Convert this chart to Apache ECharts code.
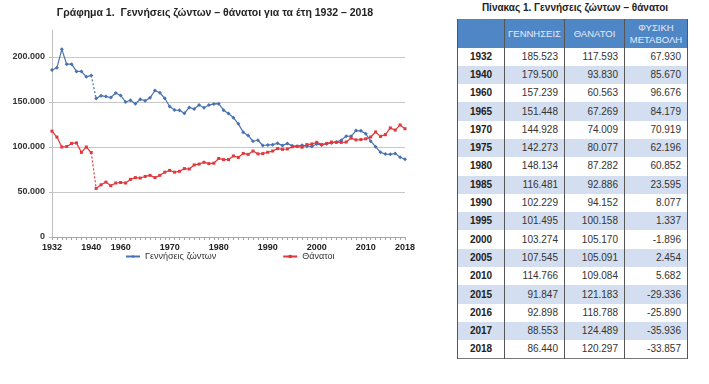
<!DOCTYPE html>
<html><head><meta charset="utf-8">
<script src="https://cdn.jsdelivr.net/npm/echarts@6/dist/echarts.min.js"></script>
<style>
html,body{margin:0;padding:0;background:#fff;width:709px;height:384px;overflow:hidden;font-family:"Liberation Sans",Arial,sans-serif;}
#chart{position:absolute;left:0;top:0;width:430px;height:384px;}
#ttitle{position:absolute;left:440px;top:2px;width:270px;text-align:center;font-weight:bold;font-size:10px;color:#222;}
#tbl{position:absolute;left:457px;top:19px;border-collapse:collapse;border:1px solid #7a7a7a;font-size:10px;color:#333;}
#tbl td,#tbl th{padding:0 5px;border-left:1px solid #555;border-right:1px solid #555;box-sizing:border-box;}
#tbl th{background:#4f86c6;color:#e4ecf7;font-weight:normal;font-size:9.5px;height:28px;line-height:12px;text-align:center;padding:0 2px;}
#tbl td{height:18.3px;line-height:12px;text-align:right;padding:0 6px 0 0;}
#tbl td.y{text-align:center;font-weight:bold;color:#222;padding:0;}
#tbl tr.alt td{background:#d3dff0;}
</style></head><body>
<div id="chart"></div>
<div id="ttitle">Πίνακας 1. Γεννήσεις ζώντων – θάνατοι</div>
<table id="tbl"></table>
<script>
// ---- chart data ----
const years = [1932,1933,1934,1935,1936,1937,1938,1939,1940,
  1955,1956,1957,1958,1959,1960,1961,1962,1963,1964,1965,1966,1967,1968,1969,
  1970,1971,1972,1973,1974,1975,1976,1977,1978,1979,1980,1981,1982,1983,1984,
  1985,1986,1987,1988,1989,1990,1991,1992,1993,1994,1995,1996,1997,1998,1999,
  2000,2001,2002,2003,2004,2005,2006,2007,2008,2009,2010,2011,2012,2013,2014,
  2015,2016,2017,2018];
const births = [185523,188000,208500,192000,192000,184000,184000,178000,179500,
  154000,157000,156000,155000,160000,157239,150000,152000,148000,153000,151448,154600,162800,160300,154100,
  144928,141100,140800,137500,144000,142273,146600,143700,146600,147900,148134,140953,137275,132608,125724,
  116481,112810,106392,107505,101657,102229,102620,104081,101799,103763,101495,100718,102038,100894,100643,
  103274,102282,103569,104420,105655,107545,112042,111926,118302,117933,114766,106428,100371,94134,92149,
  91847,92898,88553,86440];
const deaths = [117593,111000,100000,100500,104000,104500,94000,100000,93830,
  54000,58000,61000,57000,60000,60563,60000,64000,66000,65500,67269,68500,66000,68500,72000,
  74009,72000,73000,76000,75500,80077,81000,83000,81500,82000,87282,86000,86000,90000,88400,
  92886,91800,95500,92400,92700,94152,95500,98200,97400,97800,100158,100700,99700,102700,103300,
  105170,102600,103900,105500,105200,105091,105500,109900,107900,108300,109084,111100,116700,111800,113700,
  121183,118788,124489,120297];
const xLabelYears = [1932,1940,1960,1970,1980,1990,2000,2010,2018];
const yTicks = [0,50000,100000,150000,200000];

// ---- table data ----
const tYears  = [1932,1940,1960,1965,1970,1975,1980,1985,1990,1995,2000,2005,2010,2015,2016,2017,2018];
const tBirths = [185523,179500,157239,151448,144928,142273,148134,116481,102229,101495,103274,107545,114766,91847,92898,88553,86440];
const tDeaths = [117593,93830,60563,67269,74009,80077,87282,92886,94152,100158,105170,105091,109084,121183,118788,124489,120297];
const tChange = [67930,85670,96676,84179,70919,62196,60852,23595,8077,1337,-1896,2454,5682,-29336,-25890,-35936,-33857];

function fmt(n){
  const s = Math.abs(n).toString().replace(/\B(?=(\d{3})+(?!\d))/g,'.');
  return (n<0?'-':'') + s;
}

// build table
(function(){
  let h = '<tr><th style="width:47px"></th><th style="width:60px">ΓΕΝΝΗΣΕΙΣ</th><th style="width:60px">ΘΑΝΑΤΟΙ</th><th style="width:63px">ΦΥΣΙΚΗ<br>ΜΕΤΑΒΟΛΗ</th></tr>';
  for (let i=0;i<tYears.length;i++){
    h += '<tr'+(i%2===1?' class="alt"':'')+'><td class="y">'+tYears[i]+'</td><td>'+fmt(tBirths[i])+'</td><td>'+fmt(tDeaths[i])+'</td><td>'+fmt(tChange[i])+'</td></tr>';
  }
  document.getElementById('tbl').innerHTML = h;
})();

const cats = years.map(String);
const gapIdx = years.indexOf(1940);
function part(arr, from, to){ return arr.map((v,i)=> (i>=from && i<=to) ? v : null); }
const last = years.length-1;
const BLUE = '#4a72b0', RED = '#e0383c';
const NB = 'Γεννήσεις ζώντων', ND = 'Θάνατοι';

function lineSeries(name, data, color, symbol, dashed){
  return {
    name: name, type:'line', data: data, connectNulls:false,
    symbol: dashed ? 'none' : symbol, symbolSize: symbol==='rect'?3:4,
    showSymbol: !dashed, showAllSymbol: true,
    itemStyle:{color: color},
    lineStyle:{color: color, width: 1.2, type: dashed ? [2,2] : 'solid'},
    emphasis:{disabled:true}, animation:false, z: name===ND?3:2
  };
}

const chart = echarts.init(document.getElementById('chart'), null, {renderer:'canvas'});
chart.setOption({
  animation:false,
  title:{text:'Γράφημα 1.  Γεννήσεις ζώντων – θάνατοι για τα έτη 1932 – 2018', left:210, textAlign:'center', top:3,
    textStyle:{fontFamily:'Liberation Sans', fontSize:10.5, fontWeight:'bold', color:'#222'}},
  grid:{left:52, right:25, top:30, bottom:147},
  legend:{data:[NB, ND], bottom:118, left:120, itemGap:66, itemWidth:14, itemHeight:4,
    textStyle:{fontFamily:'Liberation Sans', fontSize:9, color:'#333'}},
  xAxis:{type:'category', data:cats, boundaryGap:false,
    axisLine:{lineStyle:{color:'#a6a6a6'}},
    axisTick:{interval:0, length:3, lineStyle:{color:'#a6a6a6'}},
    axisLabel:{interval:(i,v)=> xLabelYears.indexOf(+v)>=0, fontFamily:'Liberation Sans', fontSize:9, fontWeight:'bold', color:'#222', margin:6}},
  yAxis:{type:'value', min:yTicks[0], max:230000, interval:yTicks[1]-yTicks[0],
    axisLine:{show:true, lineStyle:{color:'#bfbfbf'}},
    axisTick:{show:true, length:3, lineStyle:{color:'#bfbfbf'}},
    splitLine:{lineStyle:{color:'#c8c8c8'}, showMaxLine:false},
    axisLabel:{showMaxLabel:false, formatter:v=>fmt(v), fontFamily:'Liberation Sans', fontSize:9, fontWeight:'bold', color:'#333', margin:7}},
  series:[
    lineSeries(NB, part(births,0,gapIdx), BLUE, 'diamond', false),
    lineSeries(NB, part(births,gapIdx,gapIdx+1), BLUE, 'diamond', true),
    lineSeries(NB, part(births,gapIdx+1,last), BLUE, 'diamond', false),
    lineSeries(ND, part(deaths,0,gapIdx), RED, 'rect', false),
    lineSeries(ND, part(deaths,gapIdx,gapIdx+1), RED, 'rect', true),
    lineSeries(ND, part(deaths,gapIdx+1,last), RED, 'rect', false)
  ]
});
</script>
</body></html>
